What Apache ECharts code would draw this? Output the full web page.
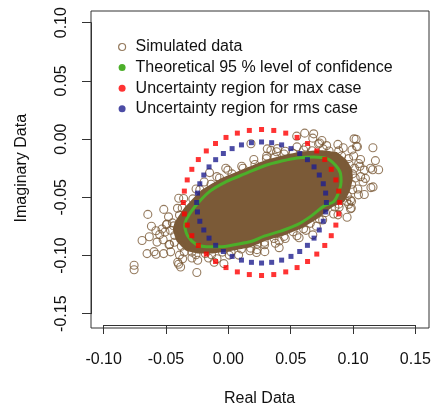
<!DOCTYPE html>
<html>
<head>
<meta charset="utf-8">
<script src="https://cdn.jsdelivr.net/npm/echarts@6/dist/echarts.min.js"></script>
<style>
  html, body { margin: 0; padding: 0; background: #fff; }
  #chart { width: 434px; height: 412px; }
</style>
</head>
<body>
<div id="chart"></div>
<script>
var xTicks = [-0.10, -0.05, 0.00, 0.05, 0.10, 0.15];
var yTicks = [-0.15, -0.10, -0.05, 0.00, 0.05, 0.10];

// simulated data: points (scattered rim + outliers)
var simX = [-0.0464,-0.0449,-0.0370,-0.0229,-0.0071,0.0117,0.0305,0.0446,0.0603,0.0760,0.0885,0.0964,0.1011,0.1017,0.0996,0.0948,0.0854,0.0729,0.0603,0.0446,0.0289,0.0179,0.0022,-0.0135,-0.0260,-0.0354,-0.0433,
  -0.0532,-0.0480,-0.0359,-0.0194,-0.0004,0.0204,0.0386,0.0550,0.0723,0.0878,0.0991,0.1060,0.1090,0.1080,0.1043,0.0965,0.0844,0.0706,0.0550,0.0377,0.0229,0.0082,-0.0091,-0.0246,-0.0367,-0.0463,-0.0523,
  -0.0634,-0.0518,-0.0151,0.0312,0.0677,0.1024,0.1179,0.1160,0.0986,0.0677,0.0292,-0.0036,-0.0383,-0.0596,
  -0.0492,-0.0259,0.0107,0.0456,0.0788,0.1005,0.1061,0.0988,0.0756,0.0456,0.0173,-0.0159,-0.0392,
  -0.0438,-0.0392,-0.0285,-0.0139,0.0029,0.0213,0.0374,0.0519,0.0671,0.0808,0.0908,0.0969,0.0996,0.0988,0.0954,0.0885,0.0778,0.0657,0.0519,0.0366,0.0234,0.0104,-0.0048,-0.0185,-0.0292,-0.0377,-0.0430,
  -0.0508,-0.0408,-0.0092,0.0307,0.0622,0.0921,0.1055,0.1038,0.0888,0.0622,0.0290,0.0007,-0.0292,-0.0476,
  -0.0581,-0.0398,-0.0021,0.0393,0.0750,0.1035,0.1140,0.1090,0.0879,0.0567,0.0226,-0.0114,-0.0406,-0.0572,
  -0.0756,-0.0756,-0.0646,-0.0617,-0.0692,-0.0652,-0.0580,-0.0519,-0.0399,-0.0253,0.1008,0.1027,0.1159,0.1099,0.1143,0.1157,0.1205,0.0952,0.0979,0.0979,0.0548,0.0612,0.0684,0.0732,0.1045,0.0181,0.0341,-0.0497,-0.0551,-0.0471,0.0407,0.0407];
var simY = [-0.0783,-0.0720,-0.0592,-0.0435,-0.0335,-0.0251,-0.0168,-0.0128,-0.0094,-0.0084,-0.0101,-0.0168,-0.0251,-0.0335,-0.0435,-0.0535,-0.0583,-0.0687,-0.0770,-0.0836,-0.0887,-0.0937,-0.0971,-0.0994,-0.0994,-0.0971,-0.0887,
  -0.0773,-0.0668,-0.0510,-0.0369,-0.0267,-0.0176,-0.0109,-0.0067,-0.0042,-0.0046,-0.0093,-0.0176,-0.0267,-0.0369,-0.0479,-0.0561,-0.0644,-0.0748,-0.0830,-0.0895,-0.0950,-0.0997,-0.1028,-0.1041,-0.1028,-0.0969,-0.0865,
  -0.0839,-0.0604,-0.0288,-0.0084,0.0008,-0.0001,-0.0185,-0.0411,-0.0593,-0.0823,-0.0967,-0.1070,-0.1099,-0.0967,
  -0.0730,-0.0429,-0.0234,-0.0104,-0.0056,-0.0146,-0.0323,-0.0535,-0.0695,-0.0854,-0.0960,-0.1022,-0.0997,
  -0.0746,-0.0653,-0.0514,-0.0388,-0.0299,-0.0218,-0.0158,-0.0122,-0.0100,-0.0103,-0.0145,-0.0218,-0.0299,-0.0388,-0.0486,-0.0559,-0.0632,-0.0724,-0.0797,-0.0854,-0.0902,-0.0944,-0.0971,-0.0983,-0.0971,-0.0920,-0.0828,
  -0.0798,-0.0595,-0.0323,-0.0146,-0.0068,-0.0075,-0.0234,-0.0429,-0.0585,-0.0784,-0.0908,-0.0997,-0.1022,-0.0908,
  -0.0787,-0.0509,-0.0251,-0.0082,-0.0012,-0.0066,-0.0251,-0.0476,-0.0651,-0.0848,-0.0975,-0.1058,-0.1058,-0.0885,
  -0.1084,-0.1123,-0.0647,-0.0749,-0.0871,-0.0984,-0.0990,-0.0984,-0.1075,-0.1146,0.0002,-0.0063,-0.0074,-0.0338,-0.0417,-0.0264,-0.0264,-0.0672,-0.0599,-0.0523,0.0025,0.0051,0.0045,-0.0034,-0.0210,-0.0040,-0.0097,-0.0735,-0.0820,-0.0905,-0.0876,-0.0933];

// outline of the solid, fully overlapped part of the cloud
var coreX = [-0.0445,-0.0430,-0.0353,-0.0216,-0.0062,0.0121,0.0305,0.0441,0.0594,0.0747,0.0869,0.0946,0.0992,0.0998,0.0977,0.0931,0.0839,0.0717,0.0594,0.0441,0.0289,0.0182,0.0029,-0.0124,-0.0246,-0.0338,-0.0415];
var coreY = [-0.0777,-0.0715,-0.0591,-0.0438,-0.0340,-0.0258,-0.0178,-0.0139,-0.0105,-0.0095,-0.0112,-0.0178,-0.0258,-0.0340,-0.0438,-0.0536,-0.0582,-0.0683,-0.0764,-0.0829,-0.0878,-0.0927,-0.0960,-0.0983,-0.0983,-0.0960,-0.0878];

// theoretical 95 % ellipse
var confX = [-0.0351,-0.0338,-0.0271,-0.0152,-0.0018,0.0141,0.0301,0.0420,0.0553,0.0686,0.0792,0.0859,0.0899,0.0904,0.0886,0.0846,0.0766,0.0660,0.0553,0.0420,0.0287,0.0194,0.0061,-0.0072,-0.0178,-0.0258,-0.0325,-0.0351];
var confY = [-0.0746,-0.0692,-0.0584,-0.0451,-0.0366,-0.0295,-0.0225,-0.0191,-0.0162,-0.0153,-0.0168,-0.0225,-0.0295,-0.0366,-0.0451,-0.0536,-0.0576,-0.0664,-0.0735,-0.0791,-0.0834,-0.0876,-0.0905,-0.0925,-0.0925,-0.0905,-0.0834,-0.0746];

// uncertainty region, max case
var maxX = [0.0893,0.0885,0.0862,0.0825,0.0773,0.0709,0.0635,0.0551,0.0460,0.0364,0.0266,0.0168,0.0072,-0.0019,-0.0103,-0.0177,-0.0241,-0.0293,-0.0330,-0.0353,-0.0361,-0.0353,-0.0330,-0.0293,-0.0241,-0.0177,-0.0103,-0.0019,0.0072,0.0168,0.0266,0.0364,0.0460,0.0551,0.0635,0.0709,0.0773,0.0825,0.0862,0.0885];
var maxY = [-0.0545,-0.0447,-0.0351,-0.0260,-0.0176,-0.0102,-0.0038,0.0014,0.0051,0.0074,0.0082,0.0074,0.0051,0.0014,-0.0038,-0.0102,-0.0176,-0.0260,-0.0351,-0.0447,-0.0545,-0.0643,-0.0739,-0.0830,-0.0914,-0.0988,-0.1052,-0.1104,-0.1141,-0.1164,-0.1172,-0.1164,-0.1141,-0.1104,-0.1052,-0.0988,-0.0914,-0.0830,-0.0739,-0.0643];

// uncertainty region, rms case
var rmsX = [0.0786,0.0780,0.0761,0.0729,0.0687,0.0634,0.0572,0.0502,0.0427,0.0347,0.0266,0.0185,0.0105,0.0030,-0.0040,-0.0102,-0.0155,-0.0197,-0.0229,-0.0248,-0.0254,-0.0248,-0.0229,-0.0197,-0.0155,-0.0102,-0.0040,0.0030,0.0105,0.0185,0.0266,0.0347,0.0427,0.0502,0.0572,0.0634,0.0687,0.0729,0.0761,0.0780];
var rmsY = [-0.0545,-0.0464,-0.0384,-0.0309,-0.0239,-0.0177,-0.0124,-0.0082,-0.0050,-0.0031,-0.0025,-0.0031,-0.0050,-0.0082,-0.0124,-0.0177,-0.0239,-0.0309,-0.0384,-0.0464,-0.0545,-0.0626,-0.0706,-0.0781,-0.0851,-0.0913,-0.0966,-0.1008,-0.1040,-0.1059,-0.1065,-0.1059,-0.1040,-0.1008,-0.0966,-0.0913,-0.0851,-0.0781,-0.0706,-0.0626];

var brown = '#7b5a37';
var font = 'Liberation Sans, Arial, sans-serif';

function pairs(xs, ys) {
    return xs.map(function (x, i) { return [x, ys[i]]; });
}

var labelStyle = {
    fontSize: 16, color: '#111', fontFamily: font,
    formatter: function (v) { return v.toFixed(2); }
};

var option = {
    animation: false,
    textStyle: { fontFamily: font },
    // grid 0 spans the first to last tick (R style axis); grid 1 is the plot box
    grid: [
        { left: 103.67, right: 17, top: 22.67, bottom: 95.33 },
        { left: 91, right: 5, top: 11, bottom: 84, show: true, borderColor: '#333', borderWidth: 1 }
    ],
    legend: {
        orient: 'vertical',
        left: 113, top: 34,
        itemWidth: 7, itemHeight: 7, itemGap: 4.6,
        textStyle: { fontSize: 16, color: '#111', fontFamily: font, padding: [0, 0, 0, 5] },
        data: [
            { name: 'Simulated data', icon: 'circle', itemStyle: { color: 'transparent', borderColor: brown, borderWidth: 1.2 } },
            { name: 'Theoretical 95 % level of confidence', icon: 'circle', itemStyle: { color: '#4caf2a' } },
            { name: 'Uncertainty region for max case', icon: 'circle', itemStyle: { color: '#ff0000' } },
            { name: 'Uncertainty region for rms case', icon: 'circle', itemStyle: { color: '#1f1f8f' } }
        ]
    },
    xAxis: [
        {
            gridIndex: 0, type: 'value',
            min: xTicks[0], max: xTicks[xTicks.length - 1], interval: 0.05,
            offset: 11.33,
            name: 'Real Data', nameLocation: 'middle', nameGap: 66,
            nameTextStyle: { fontSize: 16, color: '#111', fontFamily: font },
            axisLine: { show: true, onZero: false, lineStyle: { color: '#333' } },
            splitLine: { show: false },
            axisTick: { show: true, inside: false, length: 9, lineStyle: { color: '#333' } },
            axisLabel: Object.assign({ margin: 27 }, labelStyle)
        },
        { gridIndex: 1, type: 'value', min: 0, max: 1, show: false }
    ],
    yAxis: [
        {
            gridIndex: 0, type: 'value',
            min: yTicks[0], max: yTicks[yTicks.length - 1], interval: 0.05,
            offset: 12.67,
            name: 'Imaginary Data', nameLocation: 'middle', nameGap: 61,
            nameTextStyle: { fontSize: 16, color: '#111', fontFamily: font },
            axisLine: { show: true, onZero: false, lineStyle: { color: '#333' } },
            splitLine: { show: false },
            axisTick: { show: true, inside: false, length: 9, lineStyle: { color: '#333' } },
            axisLabel: Object.assign({ margin: 21, rotate: 90 }, labelStyle)
        },
        { gridIndex: 1, type: 'value', min: 0, max: 1, show: false }
    ],
    series: [
        {
            name: 'simCore',
            type: 'custom',
            silent: true,
            clip: false,
            z: 1,
            data: pairs(coreX, coreY),
            renderItem: function (params, api) {
                if (params.dataIndex !== 0) return;
                var pts = coreX.map(function (x, i) { return api.coord([x, coreY[i]]); });
                return { type: 'polygon', shape: { points: pts, smooth: 0.1 }, style: { fill: brown } };
            }
        },
        {
            name: 'Simulated data',
            type: 'scatter',
            clip: false,
            z: 2,
            symbol: 'circle',
            symbolSize: 8,
            itemStyle: { color: 'transparent', borderColor: brown, borderWidth: 1.1 },
            data: pairs(simX, simY)
        },
        {
            name: 'Theoretical 95 % level of confidence',
            type: 'line',
            clip: false,
            z: 3,
            smooth: 0.35,
            showSymbol: false,
            lineStyle: { color: '#4caf2a', width: 3 },
            itemStyle: { color: '#4caf2a' },
            data: pairs(confX, confY)
        },
        {
            name: 'Uncertainty region for max case',
            type: 'scatter',
            clip: false,
            z: 4,
            symbol: 'rect',
            symbolSize: 5,
            itemStyle: { color: '#ff0000' },
            data: pairs(maxX, maxY)
        },
        {
            name: 'Uncertainty region for rms case',
            type: 'scatter',
            clip: false,
            z: 5,
            symbol: 'rect',
            symbolSize: 5,
            itemStyle: { color: '#1f1f8f' },
            data: pairs(rmsX, rmsY)
        }
    ]
};

var myChart = echarts.init(document.getElementById('chart'));
myChart.setOption(option);
</script>
</body>
</html>
